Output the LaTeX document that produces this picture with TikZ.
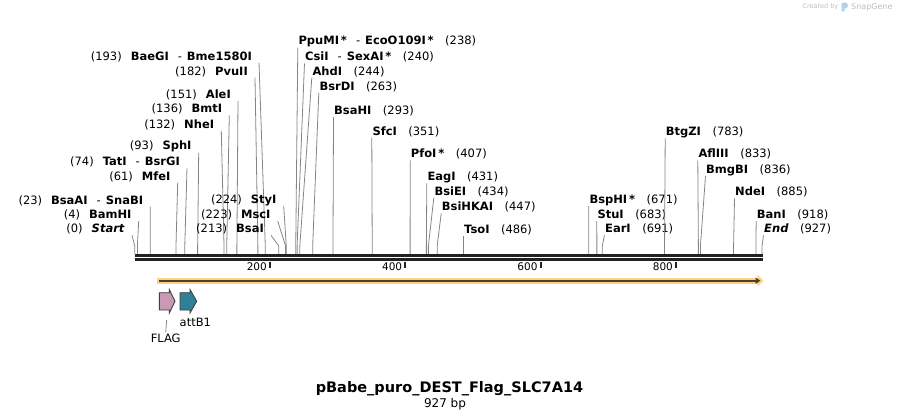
\documentclass[tikz,border=0pt]{standalone}
\usepackage{fontspec}
\setmainfont{DejaVu Sans}
\usetikzlibrary{positioning,arrows.meta}
\definecolor{leadgray}{HTML}{858585}
\definecolor{rulerdark}{HTML}{222222}
\definecolor{orfband}{HTML}{FDD27F}
\definecolor{orfline}{HTML}{4A3F33}
\definecolor{flagpink}{HTML}{C99AB6}
\definecolor{attteal}{HTML}{2F8199}
\definecolor{markgray}{HTML}{BDBDBD}
\definecolor{markblue}{HTML}{A9D3EE}
\newcommand{\lgap}{\hspace{9pt}}
\newcommand{\rgap}{\hspace{11.5pt}}
\newcommand{\dgap}{\hspace{9pt}-\hspace{5pt}}
\tikzstyle{enz}=[inner sep=0pt, font=\fontsize{11.5}{13}\selectfont]
\tikzstyle{ticklbl}=[inner sep=0pt, font=\fontsize{10.5}{12}\selectfont]
\tikzstyle{leader}=[draw=leadgray, line width=0.8pt]
\tikzstyle{ruler}=[draw=rulerdark, line width=2.6pt]
\tikzstyle{tick}=[draw=rulerdark, line width=1.8pt]
\tikzstyle{feat}=[draw=black!75, line width=0.9pt, line join=miter]

\begin{document}
\begin{tikzpicture}[x=1pt, y=-1pt]
  \useasboundingbox (0,0) rectangle (899,420);

  % enzymes written left of their site
  \foreach \nm/\bp/\xe/\ye/\lab in {
      baegi/193/252/56.7/{(193)\lgap\textbf{BaeGI}\dgap\textbf{Bme1580I}},
      pvuii/182/248/71.7/{(182)\lgap\textbf{PvuII}},
      alei/151/231/95/{(151)\lgap\textbf{AleI}},
      bmti/136/222.3/109.3/{(136)\lgap\textbf{BmtI}},
      nhei/132/214.3/125/{(132)\lgap\textbf{NheI}},
      sphi/93/191.7/146.7/{(93)\lgap\textbf{SphI}},
      tati/74/180/162.3/{(74)\lgap\textbf{TatI}\dgap\textbf{BsrGI}},
      mfei/61/170.7/176.7/{(61)\lgap\textbf{MfeI}},
      bsaai/23/143.3/200.7/{(23)\lgap\textbf{BsaAI}\dgap\textbf{SnaBI}},
      bamhi/4/131.7/215/{(4)\lgap\textbf{BamHI}},
      start/0/125/229.3/{(0)\lgap\textbf{\textit{Start}}},
      styi/224/276.7/200/{(224)\lgap\textbf{StyI}},
      msci/223/270.7/215/{(223)\lgap\textbf{MscI}},
      bsai/213/264/229.3/{(213)\lgap\textbf{BsaI}}} {
    \node[enz, anchor=east] (l\nm) at (\xe,\ye) {\lab};
    \coordinate (t\nm) at ([xshift=7pt, yshift=-6pt]l\nm.east);
    \coordinate (s\nm) at ({134.7+0.6767*\bp},254);
    \draw[leader] (t\nm) -- ([yshift=8pt]s\nm) -- (s\nm);
  }

  % enzymes written right of their site
  \foreach \nm/\bp/\xw/\ye/\lab in {
      ppumi/238/298.3/41.7/{\textbf{PpuMI\,*}\dgap\textbf{EcoO109I\,*}\rgap(238)},
      csii/240/305/57.3/{\textbf{CsiI}\dgap\textbf{SexAI\,*}\rgap(240)},
      ahdi/244/312.3/71.7/{\textbf{AhdI}\rgap(244)},
      bsrdi/263/319.3/86.7/{\textbf{BsrDI}\rgap(263)},
      bsahi/293/334/111/{\textbf{BsaHI}\rgap(293)},
      sfci/351/372.3/131.7/{\textbf{SfcI}\rgap(351)},
      pfoi/407/410.7/154.3/{\textbf{PfoI\,*}\rgap(407)},
      eagi/431/427.3/177.3/{\textbf{EagI}\rgap(431)},
      bsiei/434/434.3/191.7/{\textbf{BsiEI}\rgap(434)},
      bsihkai/447/441.7/207.3/{\textbf{BsiHKAI}\rgap(447)},
      tsoi/486/464/230/{\textbf{TsoI}\rgap(486)},
      bsphi/671/589.3/200/{\textbf{BspHI\,*}\rgap(671)},
      stui/683/597.3/215/{\textbf{StuI}\rgap(683)},
      eari/691/605/229.3/{\textbf{EarI}\rgap(691)},
      btgzi/783/665.7/132.3/{\textbf{BtgZI}\rgap(783)},
      afliii/833/698.3/154.3/{\textbf{AflIII}\rgap(833)},
      bmgbi/836/706/170/{\textbf{BmgBI}\rgap(836)},
      ndei/885/735/192.3/{\textbf{NdeI}\rgap(885)},
      bani/918/756.7/215/{\textbf{BanI}\rgap(918)},
      end/927/764/229.3/{\textbf{\textit{End}}\rgap(927)}} {
    \node[enz, anchor=west] (r\nm) at (\xw,\ye) {\lab};
    \coordinate (t\nm) at ([xshift=-0.5pt, yshift=-6pt]r\nm.west);
    \coordinate (s\nm) at ({134.7+0.6767*\bp},254);
    \draw[leader] (t\nm) -- ([yshift=8pt]s\nm) -- (s\nm);
  }

  % sequence ruler
  \coordinate (rs) at (134.7,255.3);
  \coordinate (re) at (762.5,255.3);
  \draw[ruler] (rs) -- (re);
  \draw[ruler] ([yshift=-4pt]rs) -- ([yshift=-4pt]re);
  \foreach \v in {200,400,600,800} {
    \coordinate (k\v) at ({134.7+0.6767*\v},261.5);
    \draw[tick] (k\v) -- ++(0,6);
    \node[ticklbl, anchor=east] (kl\v) at ([xshift=-3pt, yshift=-5.3pt]k\v) {\v};
  }

  % open reading frame
  \coordinate (orfs) at (157.3,280.7);
  \coordinate (orfe) at (763.5,280.7);
  \draw[orfband, line width=6pt, -{Triangle[length=6pt, width=11pt]}] (orfs) -- (orfe);
  \draw[orfline, line width=2pt, -{Triangle[length=5pt, width=6pt]}] ([xshift=2pt]orfs) -- ([xshift=-3pt]orfe);

  % features
  \draw[feat, fill=flagpink] (159.3,292.7) -- (169.3,292.7) -- (169.3,289.5)
    -- (175,301.3) -- (169.3,313) -- (169.3,310) -- (159.3,310) -- cycle;
  \draw[feat, fill=attteal] (180,292.7) -- (190,292.7) -- (190,289.5)
    -- (196.7,301.3) -- (190,313) -- (190,310) -- (180,310) -- cycle;
  \coordinate (flagbot) at (166.7,320);
  \node[enz, anchor=west] (attlbl) at (179.5,322.7) {attB1};
  \node[enz] (flaglbl) at (165.7,338.3) {FLAG};
  \draw[leader] (flagbot) -- ([yshift=1.5pt]flaglbl.north);

  % title
  \node[inner sep=0pt, font=\fontsize{14.5}{16}\selectfont\bfseries] (title) at (449.5,389) {pBabe\_puro\_DEST\_Flag\_SLC7A14};
  \node[inner sep=0pt, font=\fontsize{12}{13}\selectfont] (size) at (445,404.3) {927 bp};

  % watermark
  \node[inner sep=0pt, text=markgray, font=\fontsize{6.5}{7}\selectfont, anchor=east] (crby) at (838.5,7) {Created by};
  \fill[markblue] (841.5,3) -- (846,2.5) -- (848,5) -- (847,8) -- (844.5,8.5) -- (844.5,11.5) -- (841.5,11.5) -- cycle;
  \node[inner sep=0pt, text=markgray, font=\fontsize{8}{9}\selectfont, anchor=west] (snapg) at (851,7) {SnapGene};
\end{tikzpicture}
\end{document}
